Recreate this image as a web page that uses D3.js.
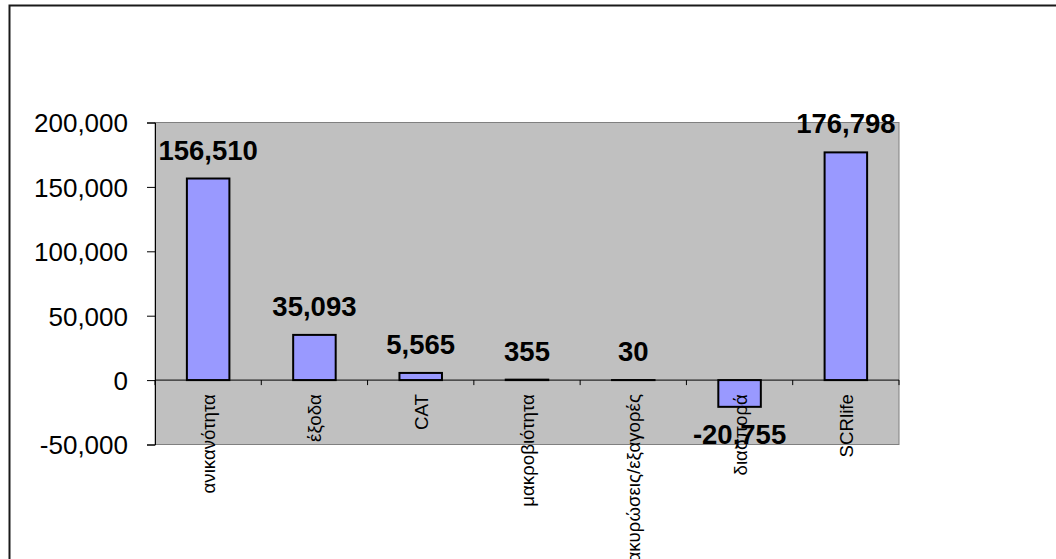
<!DOCTYPE html>
<html>
<head>
<meta charset="utf-8">
<script src="https://cdn.jsdelivr.net/npm/d3@7"></script>
<style>
  html, body { margin: 0; padding: 0; background: #ffffff; }
  svg { display: block; }
  text { font-family: "Liberation Sans", Arial, sans-serif; fill: #000; }
</style>
</head>
<body>
<svg id="chart" width="1056" height="559"></svg>
<script>
// Risk components (SCR life module)
const categories = ["ανικανότητα", "έξοδα", "CAT", "μακροβιότητα", "ακυρώσεις/εξαγορές", "διασπορά", "SCRlife"];
const values = [156510, 35093, 5565, 355, 30, -20755, 176798];
const yTicks = [-50000, 0, 50000, 100000, 150000, 200000];
const yDomain = [-50000, 200000];

const W = 1056, H = 559;
const plot = { left: 155, right: 899, top: 122.5, bottom: 444.5 };

const svg = d3.select("#chart");

// number format with a plain hyphen for negatives
const fmt = d3.formatLocale({ decimal: ".", thousands: ",", grouping: [3], currency: ["", ""], minus: "-" }).format(",");

// chart frame
svg.append("rect")
  .attr("x", 9.5).attr("y", 5.5)
  .attr("width", W + 10).attr("height", H + 10)
  .attr("fill", "#ffffff")
  .attr("stroke", "#1a1a1a").attr("stroke-width", 2);

const x = d3.scaleBand()
  .domain(categories)
  .range([plot.left, plot.right])
  .paddingInner(0.6)
  .paddingOuter(0.3);

const y = d3.scaleLinear()
  .domain(yDomain)
  .range([plot.bottom, plot.top]);

// plot area
svg.append("rect")
  .attr("x", plot.left).attr("y", plot.top)
  .attr("width", plot.right - plot.left)
  .attr("height", plot.bottom - plot.top)
  .attr("fill", "#c0c0c0")
  .attr("stroke", "#808080").attr("stroke-width", 1);

// bars
svg.append("g").selectAll("rect")
  .data(values)
  .join("rect")
  .attr("x", (d, i) => x(categories[i]))
  .attr("width", x.bandwidth())
  .attr("y", d => y(Math.max(0, d)))
  .attr("height", d => Math.abs(y(d) - y(0)))
  .attr("fill", "#9999ff")
  .attr("stroke", "#000")
  .attr("stroke-width", 2);

// value axis
const yAxis = d3.axisLeft(y)
  .tickValues(yTicks)
  .tickSize(8)
  .tickPadding(19)
  .tickFormat(fmt);

const gy = svg.append("g")
  .attr("transform", `translate(${plot.left},0)`)
  .call(yAxis);
gy.select(".domain").attr("stroke", "#000");
gy.selectAll(".tick line").attr("stroke", "#000");
gy.selectAll(".tick text")
  .attr("font-family", "Liberation Sans, Arial, sans-serif")
  .attr("font-size", 26)
  .attr("fill", "#000")
  .attr("dy", "0.36em");

// category axis along zero
const zeroY = y(0);
svg.append("line")
  .attr("x1", plot.left).attr("x2", plot.right)
  .attr("y1", zeroY).attr("y2", zeroY)
  .attr("stroke", "#000").attr("stroke-width", 1);

const step = x.step();
const tickXs = categories.map(c => x(c) - step * 0.3).concat([plot.right]);
svg.append("g").selectAll("line")
  .data(tickXs)
  .join("line")
  .attr("x1", d => d).attr("x2", d => d)
  .attr("y1", zeroY).attr("y2", zeroY + 5)
  .attr("stroke", "#000").attr("stroke-width", 1);

// category labels, rotated
svg.append("g").selectAll("text")
  .data(categories)
  .join("text")
  .attr("transform", c => `translate(${x(c) + x.bandwidth() / 2 + 7},${zeroY + 14}) rotate(-90)`)
  .attr("text-anchor", "end")
  .attr("font-size", 18.7)
  .text(c => c);

// value labels
svg.append("g").selectAll("text")
  .data(values)
  .join("text")
  .attr("x", (d, i) => x(categories[i]) + x.bandwidth() / 2)
  .attr("y", d => d >= 0 ? y(d) - 19 : y(d) + 37)
  .attr("text-anchor", "middle")
  .attr("font-size", 27.5)
  .attr("font-weight", "bold")
  .text(d => fmt(d));
</script>
</body>
</html>
